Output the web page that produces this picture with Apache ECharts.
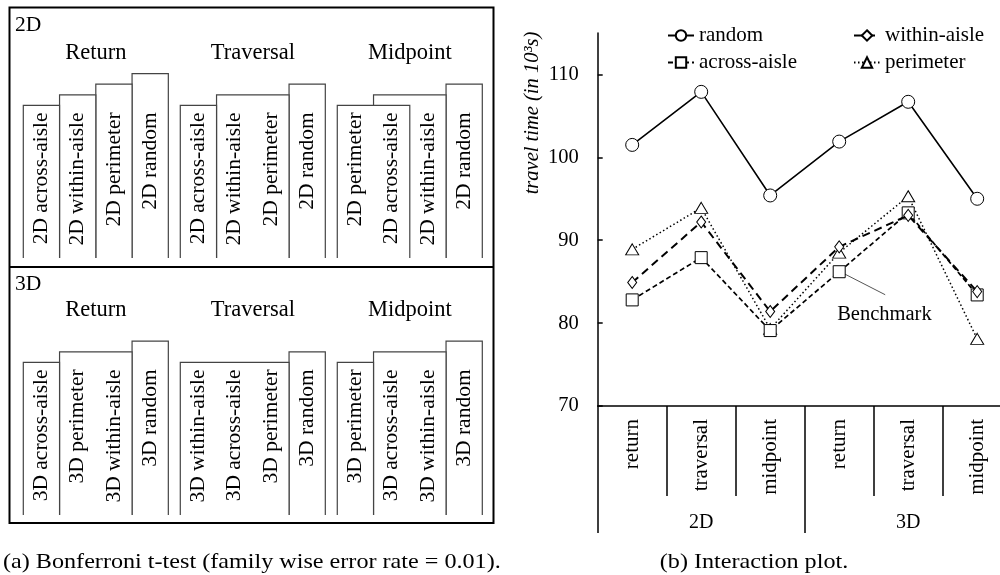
<!DOCTYPE html>
<html>
<head>
<meta charset="utf-8">
<script src="https://cdn.jsdelivr.net/npm/echarts@6/dist/echarts.min.js"></script>
<style>html,body{margin:0;padding:0;background:#fff}#c{width:1000px;height:575px}</style>
</head>
<body>
<div id="c"></div>
<script>
// ---------- data: interaction plot ----------
const conditions = ['return', 'traversal', 'midpoint', 'return', 'traversal', 'midpoint'];
const dims = ['2D', '3D'];
const seriesNames = ['random', 'within-aisle', 'across-aisle', 'perimeter'];
const randomVals = [101.5, 107.9, 95.4, 101.9, 106.7, 95.0];
const withinVals = [84.9, 92.2, 81.4, 89.2, 93.0, 83.8];
const acrossVals = [82.8, 87.9, 79.1, 86.2, 93.3, 83.4];
const perimeterVals = [88.9, 93.9, 79.3, 88.5, 95.3, 78.1];
const yTicks = [70, 80, 90, 100, 110];

// ---------- data: Bonferroni homogeneous subsets ----------
const methods = ['Return', 'Traversal', 'Midpoint'];
const order2D = [
  ['2D across-aisle', '2D within-aisle', '2D perimeter', '2D random'],
  ['2D across-aisle', '2D within-aisle', '2D perimeter', '2D random'],
  ['2D perimeter', '2D across-aisle', '2D within-aisle', '2D random']
];
const subsets2D = [   // [first column, last column, subset level]
  [[0, 0, 1], [1, 1, 2], [2, 2, 3], [3, 3, 4]],
  [[0, 0, 1], [1, 2, 2], [3, 3, 3]],
  [[0, 1, 1], [1, 2, 2], [3, 3, 3]]
];
const order3D = [
  ['3D across-aisle', '3D perimeter', '3D within-aisle', '3D random'],
  ['3D within-aisle', '3D across-aisle', '3D perimeter', '3D random'],
  ['3D perimeter', '3D across-aisle', '3D within-aisle', '3D random']
];
const subsets3D = [
  [[0, 0, 1], [1, 2, 2], [3, 3, 3]],
  [[0, 2, 1], [3, 3, 2]],
  [[0, 0, 1], [1, 2, 2], [3, 3, 3]]
];

// ---------- layout constants ----------
const FONT = 'Liberation Serif';
const GROUP_PITCH = 4.33;
const LEFT_YMIN = -13.4, LEFT_YMAX = 5, TITLE_LEVEL = 5.9;

const chart = echarts.init(document.getElementById('c'));

function panelRenderer(order, subsets) {
  return function (params, api) {
    const g = api.value(0);
    const base = g * GROUP_PITCH;
    const yBottom = api.coord([0, LEFT_YMIN])[1];
    const children = [];
    const sets = subsets[g].slice().sort((a, b) => b[2] - a[2]);
    sets.forEach(function (s) {
      const p0 = api.coord([base + s[0], s[2]]);
      const p1 = api.coord([base + s[1] + 1, s[2]]);
      children.push({
        type: 'rect',
        shape: { x: p0[0], y: p0[1], width: p1[0] - p0[0], height: yBottom - p0[1] },
        style: { fill: '#fff', stroke: null }
      });
      children.push({
        type: 'polyline',
        shape: { points: [[p0[0], yBottom], [p0[0], p0[1]], [p1[0], p1[1]], [p1[0], yBottom]] },
        style: { stroke: '#444', lineWidth: 1.2, fill: null }
      });
    });
    const topY = api.coord([0, 1])[1] + 7;
    order[g].forEach(function (txt, c) {
      const cx = api.coord([base + c + 0.5, 1])[0];
      children.push({
        type: 'text', x: cx, y: topY, rotation: Math.PI / 2,
        style: { text: txt, x: 0, y: 0, align: 'right', verticalAlign: 'middle',
                 font: '21.5px "' + FONT + '"', fill: '#000' }
      });
    });
    const t = api.coord([base + 2, TITLE_LEVEL]);
    children.push({
      type: 'text', x: t[0], y: t[1],
      style: { text: methods[g], align: 'center', verticalAlign: 'middle',
               font: '22.5px "' + FONT + '"', fill: '#000' }
    });
    return { type: 'group', children: children };
  };
}

const catKeys = conditions.map((c, i) => dims[Math.floor(i / 3)] + '|' + c);
const sym = { color: '#fff', borderColor: '#000', borderWidth: 1 };

const option = {
  animation: false,
  backgroundColor: '#fff',
  textStyle: { fontFamily: FONT },
  grid: [
    { left: 597.7, top: 33, right: -11.7, bottom: 169, outerBoundsMode: 'none' },
    { left: 23.3, width: 459, top: 63, height: 195, outerBoundsMode: 'none' },
    { left: 23.3, width: 459, top: 320, height: 195, outerBoundsMode: 'none' }
  ],
  xAxis: [
    {
      type: 'category', gridIndex: 0, data: catKeys, boundaryGap: true,
      axisLine: { lineStyle: { color: '#000', width: 1.5 } },
      axisTick: { show: true, interval: 0, length: 90, lineStyle: { color: '#000', width: 1.5 } },
      axisLabel: { interval: 0, rotate: 90, margin: 13, color: '#000', fontSize: 21, fontFamily: FONT,
                   formatter: v => v.split('|')[1] },
      splitLine: { show: false }
    },
    {
      type: 'category', gridIndex: 0, data: dims, position: 'bottom', boundaryGap: true,
      axisLine: { show: false },
      axisTick: { show: true, interval: 0, length: 127, lineStyle: { color: '#000', width: 1.5 } },
      axisLabel: { interval: 0, margin: 107, color: '#000', fontSize: 20, fontFamily: FONT },
      splitLine: { show: false }
    },
    { type: 'value', gridIndex: 1, min: 0, max: 12.66, show: false },
    { type: 'value', gridIndex: 2, min: 0, max: 12.66, show: false }
  ],
  yAxis: [
    {
      type: 'value', gridIndex: 0, min: 70, max: 115, interval: 10,
      axisLine: { show: true, lineStyle: { color: '#000', width: 1.5 } },
      axisTick: { show: true, inside: true, length: 5, customValues: yTicks, lineStyle: { color: '#000', width: 1.5 } },
      axisLabel: { customValues: yTicks, margin: 19, color: '#000', fontSize: 20.5, fontFamily: FONT },
      splitLine: { show: false }
    },
    { type: 'value', gridIndex: 1, min: LEFT_YMIN, max: LEFT_YMAX, show: false },
    { type: 'value', gridIndex: 2, min: LEFT_YMIN, max: LEFT_YMAX, show: false }
  ],
  legend: [
    {
      data: ['random', 'across-aisle'], orient: 'vertical', left: 667, top: 25,
      itemWidth: 26, itemHeight: 13, itemGap: 6, padding: 0,
      textStyle: { color: '#000', fontSize: 21, fontFamily: FONT, lineHeight: 20 },
      selectedMode: false
    },
    {
      data: ['within-aisle', 'perimeter'], orient: 'vertical', left: 853, top: 25,
      itemWidth: 26, itemHeight: 13, itemGap: 6, padding: 0,
      textStyle: { color: '#000', fontSize: 21, fontFamily: FONT, lineHeight: 20 },
      selectedMode: false
    }
  ],
  series: [
    {
      name: 'random', type: 'line', xAxisIndex: 0, yAxisIndex: 0, data: randomVals,
      symbol: 'circle', symbolSize: 13, itemStyle: sym,
      lineStyle: { color: '#000', width: 1.6, type: 'solid' }, z: 5
    },
    {
      name: 'within-aisle', type: 'line', xAxisIndex: 0, yAxisIndex: 0, data: withinVals,
      symbol: 'diamond', symbolSize: [9, 12], itemStyle: sym,
      lineStyle: { color: '#000', width: 2, type: [8, 5] }, z: 4
    },
    {
      name: 'across-aisle', type: 'line', xAxisIndex: 0, yAxisIndex: 0, data: acrossVals,
      symbol: 'rect', symbolSize: 12, itemStyle: sym,
      lineStyle: { color: '#000', width: 1.7, type: [5, 3] }, z: 3
    },
    {
      name: 'perimeter', type: 'line', xAxisIndex: 0, yAxisIndex: 0, data: perimeterVals,
      symbol: 'triangle', symbolSize: [13, 11], itemStyle: sym,
      lineStyle: { color: '#000', width: 1.5, type: [1.5, 2.5] }, z: 2
    },
    {
      type: 'custom', xAxisIndex: 2, yAxisIndex: 1, data: [[0], [1], [2]],
      renderItem: panelRenderer(order2D, subsets2D), silent: true
    },
    {
      type: 'custom', xAxisIndex: 3, yAxisIndex: 2, data: [[0], [1], [2]],
      renderItem: panelRenderer(order3D, subsets3D), silent: true
    }
  ]
};
chart.setOption(option);

// annotations positioned through the chart's own scales
const bm = chart.convertToPixel({ xAxisIndex: 0, yAxisIndex: 0 }, [3, acrossVals[3]]);
chart.setOption({
  graphic: [
    { type: 'rect', shape: { x: 9.5, y: 7.5, width: 484, height: 515.5 },
      style: { fill: null, stroke: '#000', lineWidth: 2 }, z: 100 },
    { type: 'line', shape: { x1: 9.5, y1: 267, x2: 493.5, y2: 267 },
      style: { stroke: '#000', lineWidth: 2 }, z: 100 },
    { type: 'text', x: 15, y: 25, style: { text: '2D', font: '21.5px "' + FONT + '"', fill: '#000', verticalAlign: 'middle' } },
    { type: 'text', x: 15, y: 284, style: { text: '3D', font: '21.5px "' + FONT + '"', fill: '#000', verticalAlign: 'middle' } },
    { type: 'text', x: 533, y: 113, rotation: Math.PI / 2,
      style: { text: 'travel time (in 10³s)', font: 'italic 20.5px "' + FONT + '"', fill: '#000',
               align: 'center', verticalAlign: 'middle' } },
    { type: 'line', shape: { x1: bm[0] + 3, y1: bm[1] + 1, x2: bm[0] + 46, y2: bm[1] + 23 },
      style: { stroke: '#555', lineWidth: 1 } },
    { type: 'text', x: bm[0] - 2, y: bm[1] + 43,
      style: { text: 'Benchmark', font: '20.5px "' + FONT + '"', fill: '#000', verticalAlign: 'middle' } },
    { type: 'text', x: 3, y: 562, scaleX: 1.15,
      style: { text: '(a) Bonferroni t-test (family wise error rate = 0.01).', font: '21px "' + FONT + '"',
               fill: '#000', verticalAlign: 'middle' } },
    { type: 'text', x: 754, y: 562, scaleX: 1.15,
      style: { text: '(b) Interaction plot.', font: '21px "' + FONT + '"', fill: '#000',
               align: 'center', verticalAlign: 'middle' } }
  ]
});
</script>
</body>
</html>
